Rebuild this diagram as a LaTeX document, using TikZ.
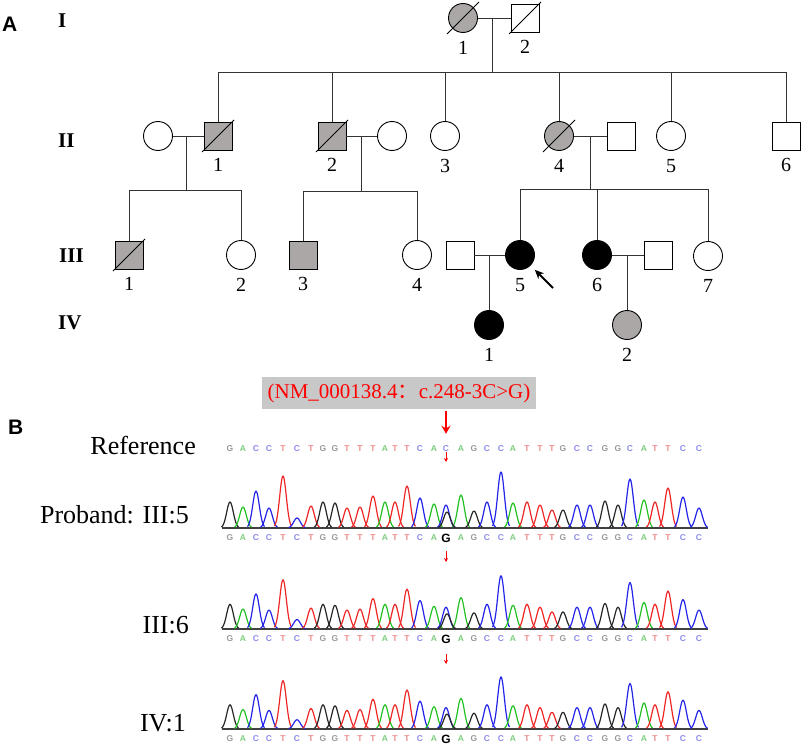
\documentclass[tikz,border=0pt]{standalone}
\usepackage{fontspec}
\setmainfont{Liberation Serif}
\setsansfont{Liberation Sans}
\newfontfamily\cjk{Noto Sans CJK SC}
\usetikzlibrary{calc,arrows.meta}
\definecolor{affgray}{HTML}{ABA7A7}
\definecolor{boxgray}{HTML}{C8C8C8}
\definecolor{trA}{HTML}{22C022}
\definecolor{trC}{HTML}{2424E8}
\definecolor{trG}{HTML}{262626}
\definecolor{trT}{HTML}{EE2626}
\definecolor{ltA}{HTML}{7CCC7C}
\definecolor{ltC}{HTML}{8C8CEC}
\definecolor{ltG}{HTML}{9A9A9A}
\definecolor{ltT}{HTML}{EE8C8C}
\newcommand{\fs}[1]{\fontsize{#1}{#1}\selectfont}
\newcommand{\dead}[1]{\draw[slash] ($(#1.center)+(-16pt,-16pt)$) -- ($(#1.center)+(16pt,16pt)$);}
\tikzset{
    male/.style={draw=black, rectangle, minimum size=28pt, inner sep=0pt, line width=0.9pt, fill=white},
    female/.style={draw=black, circle, minimum size=29pt, inner sep=0pt, line width=0.9pt, fill=white},
    aff/.style={fill=black},
    car/.style={fill=affgray},
    slash/.style={draw=black, line width=0.9pt},
    e1/.style={draw=black!80, line width=0.9pt},
    num/.style={font=\fs{20}, inner sep=0pt},
    gen/.style={font=\bfseries\fs{21}, inner sep=0pt, anchor=west},
    panel/.style={font=\sffamily\bfseries\fs{21}, inner sep=0pt, anchor=west},
    proband/.style={draw=black, -{Stealth[length=9pt,width=8pt]}, line width=1.8pt, shorten >=6pt},
    mutbox/.style={fill=boxgray, text=red, font=\fs{21}, minimum width=274pt, minimum height=32pt, inner sep=0pt},
    sample/.style={font=\fs{26}, inner sep=0pt, anchor=east},
    basel/.style={font=\sffamily\bfseries\fs{8.5}, inner sep=0pt},
    mutl/.style={font=\sffamily\bfseries\fs{12}, text=black, inner sep=0pt},
    trace/.style={line width=1.2pt, line join=round},
    axisline/.style={draw=black!75, line width=1.2pt},
    bigarrow/.style={draw=red, line width=2pt, -{Stealth[length=8pt,width=9pt]}, shorten <=2pt, shorten >=12pt},
    tick/.style={draw=red, line width=0.8pt, -{Stealth[length=4pt,width=4pt]}}
}
% base calls: x / base / peak height
\def\peaks{230/G/26, 243/A/21, 256/C/37, 269/C/20, 283/T/52, 297/C/10, 311/T/22,
  323/G/26, 335/G/25, 347/T/20, 360/T/21, 373/T/32, 385/A/26, 395/T/26, 407/T/42,
  420/C/30, 434/A/24, 446/C/23, 461/A/33, 474/G/17, 487/C/26, 501/C/56, 513/A/25,
  527/T/26, 540/T/23, 552/T/18, 563/G/18, 577/C/23, 590/C/23, 605/G/27, 618/G/23,
  630/C/49, 644/A/28, 655/T/26, 668/T/40, 683/C/31, 699/C/20}

\begin{document}
\begin{tikzpicture}[x=1pt, y=-1pt, label distance=8pt]
\useasboundingbox (0,0) rectangle (803,749);

% Panel A
\node[panel] (PanA) at (2,24) {A};
\node[gen] (GI) at (58,21) {I};
\node[gen] (GII) at (58,141) {II};
\node[gen] (GIII) at (59,256) {III};
\node[gen] (GIV) at (58,323) {IV};

% Generation I
\node[female, car, label={[num]below:1}] (G1N1) at (463,18) {};
\dead{G1N1}
\node[male, label={[num]below:2}] (G1N2) at (525,18) {};
\dead{G1N2}
\coordinate (M1) at (492,18);
\coordinate (S1) at (492,72);
\draw[e1] (G1N1) -- (G1N2);
\draw[e1] (M1) -- (S1);

% Generation II
\node[female] (G2N0) at (158,136) {};
\node[male, car, label={[num]below:1}] (G2N1) at (218,136) {};
\dead{G2N1}
\node[male, car, label={[num]below:2}] (G2N2) at (332,136) {};
\dead{G2N2}
\node[female] (G2N2s) at (392,136) {};
\node[female, label={[num]below:3}] (G2N3) at (445,136) {};
\node[female, car, label={[num]below:4}] (G2N4) at (559,136) {};
\dead{G2N4}
\node[male] (G2N4s) at (621,136) {};
\node[female, label={[num]below:5}] (G2N5) at (671,136) {};
\node[male, label={[num]below:6}] (G2N6) at (786,136) {};

% I -> II
\draw[e1] (G2N1) -- (G2N1 |- S1) -- (G2N6 |- S1) -- (G2N6);
\foreach \n in {G2N2,G2N3,G2N4,G2N5}
    \draw[e1] (\n |- S1) -- (\n);

% Couples of II
\draw[e1] (G2N0) -- (G2N1);
\coordinate (M2) at (186,136);
\coordinate (S2) at (186,190);
\draw[e1] (M2) -- (S2);
\draw[e1] (G2N2) -- (G2N2s);
\coordinate (M3) at (361,136);
\coordinate (S3) at (361,191);
\draw[e1] (M3) -- (S3);
\draw[e1] (G2N4) -- (G2N4s);
\coordinate (M4) at (590,136);
\coordinate (S4) at (590,189);
\draw[e1] (M4) -- (S4);

% Generation III
\node[male, car, label={[num]below:1}] (G3N1) at (129,255) {};
\dead{G3N1}
\node[female, label={[num]below:2}] (G3N2) at (241,255) {};
\node[male, car, label={[num]below:3}] (G3N3) at (303,255) {};
\node[female, label={[num]below:4}] (G3N4) at (417,255) {};
\node[male] (G3N5s) at (460,255) {};
\node[female, aff, label={[num]below:5}] (G3N5) at (520,255) {};
\node[female, aff, label={[num]below:6}] (G3N6) at (597,255) {};
\node[male] (G3N6s) at (658,255) {};
\node[female, label={[num]below:7}] (G3N7) at (708,256) {};

% II -> III
\draw[e1] (G3N1) -- (G3N1 |- S2) -- (G3N2 |- S2) -- (G3N2);
\draw[e1] (G3N3) -- (G3N3 |- S3) -- (G3N4 |- S3) -- (G3N4);
\draw[e1] (G3N5) -- (G3N5 |- S4) -- (G3N7 |- S4) -- (G3N7);
\draw[e1] (G3N6 |- S4) -- (G3N6);

% Generation IV
\node[female, aff, label={[num]below:1}] (G4N1) at (489,325) {};
\node[female, car, label={[num]below:2}] (G4N2) at (627,325) {};

% III -> IV
\draw[e1] (G3N5s) -- (G3N5);
\coordinate (M5) at (489,255);
\draw[e1] (M5) -- (G4N1);
\draw[e1] (G3N6) -- (G3N6s);
\coordinate (M6) at (627,255);
\draw[e1] (M6) -- (G4N2);

% proband
\coordinate (PA) at (553,288);
\draw[proband] (PA) -- (G3N5);

% Panel B
\node[panel] (PanB) at (8,427) {B};
\node[mutbox] (mut) at (399,393) {(NM\_000138.4{\cjk ：}c.248-3C>G)};

\node[sample] (Lref) at (196,445) {Reference};
\node[sample] (Lpro) at (189,515) {Proband: III:5};
\node[sample] (Lsix) at (189,625) {III:6};
\node[sample] (Lone) at (186,723) {IV:1};

% reference calls
\foreach \x/\b/\h [count=\i] in \peaks
    \node[basel, text=lt\b] (ref\i) at (\x,449) {\b};

% traces
\foreach \row/\base/\s in {P/528/1.0, S/629/0.95, F/729/0.93} {
    \draw[axisline] (222,\base) -- (708,\base);
    \foreach \x/\b/\h in \peaks
        \draw[trace, tr\b] plot[variable=\t, domain=-8.5:8.5, samples=19, smooth]
            ({\x+\t},{\base-\s*\h*exp(-\t*\t/22)});
    % G allele at c.248-3
    \draw[trace, trG] plot[variable=\t, domain=-8.5:8.5, samples=19, smooth]
        ({447+\t},{\base-\s*16*exp(-\t*\t/22)});
    \foreach \x/\b/\h [count=\i] in \peaks {
        \ifnum\i=18
            \node[mutl] (\row\i) at (\x,\base+10) {G};
        \else
            \node[basel, text=lt\b] (\row\i) at (\x,\base+10) {\b};
        \fi
    }
}

% arrows at the variant
\draw[bigarrow] (mut.south -| ref18) -- (ref18.north);
\coordinate (T1) at (446,452);
\coordinate (B1) at (446,462);
\draw[tick] (T1) -- (B1);
\coordinate (T2) at (446,551);
\coordinate (B2) at (446,562);
\draw[tick] (T2) -- (B2);
\coordinate (T3) at (446,654);
\coordinate (B3) at (446,664);
\draw[tick] (T3) -- (B3);

\end{tikzpicture}
\end{document}
